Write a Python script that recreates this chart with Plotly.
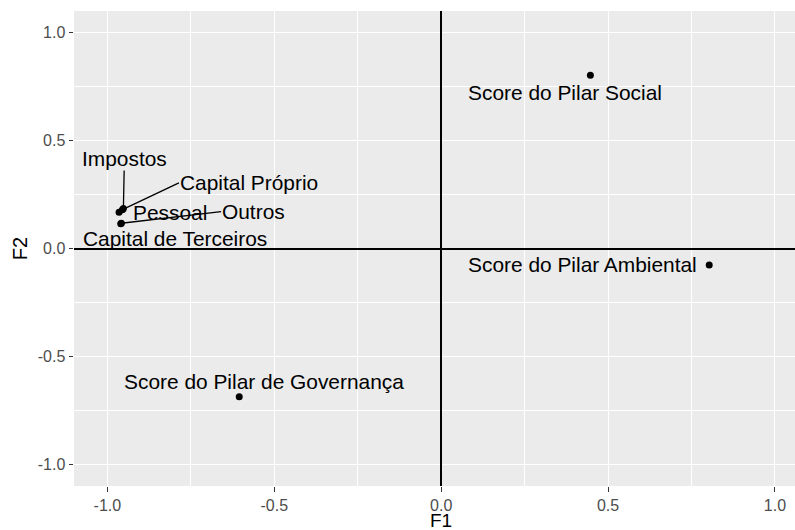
import plotly.graph_objects as go

# Data
labels = ["Score do Pilar Social", "Score do Pilar Ambiental", "Score do Pilar de Governança",
          "Impostos", "Capital Próprio", "Pessoal", "Outros", "Capital de Terceiros"]
f1 = [0.447, 0.803, -0.605, -0.952, -0.955, -0.965, -0.958, -0.960]
f2 = [0.802, -0.076, -0.687, 0.185, 0.180, 0.168, 0.117, 0.115]

x_ticks = [-1.0, -0.5, 0.0, 0.5, 1.0]
x_tick_labels = ["-1.0", "-0.5", "0.0", "0.5", "1.0"]
y_ticks = [-1.0, -0.5, 0.0, 0.5, 1.0]
y_tick_labels = ["-1.0", "-0.5", "0.0", "0.5", "1.0"]
x_title = "F1"
y_title = "F2"

# Label placement (pixel offsets from point) - layout only
label_style = {
    "Score do Pilar Social": dict(arrow=False, xshift=-25.7, yshift=-17.3, xanchor="center"),
    "Score do Pilar Ambiental": dict(arrow=False, xshift=-11.3, yshift=0, xanchor="right"),
    "Score do Pilar de Governança": dict(arrow=False, xshift=25, yshift=15, xanchor="center"),
    "Impostos": dict(arrow=True, ax=1, ay=-50, xanchor="center"),
    "Capital Próprio": dict(arrow=True, ax=56.5, ay=-26.7, xanchor="left"),
    "Pessoal": dict(arrow=False, xshift=13.3, yshift=0, xanchor="left"),
    "Outros": dict(arrow=True, ax=99.7, ay=-11.6, xanchor="left"),
    "Capital de Terceiros": dict(arrow=False, xshift=53.8, yshift=-15, xanchor="center"),
}

FONT = "Liberation Sans, Arial, sans-serif"
LABEL_SIZE = 20.9

fig = go.Figure()
fig.add_trace(go.Scatter(
    x=f1, y=f2, mode="markers",
    marker=dict(color="black", size=7),
    hoverinfo="text", text=labels, showlegend=False,
))

annotations = []
for lab, x, y in zip(labels, f1, f2):
    st = label_style[lab]
    if st["arrow"]:
        annotations.append(dict(
            x=x, y=y, xref="x", yref="y", text=lab,
            showarrow=True, ax=st["ax"], ay=st["ay"],
            arrowhead=0, arrowwidth=1.3, arrowcolor="black",
            xanchor=st["xanchor"], yanchor="middle",
            font=dict(family=FONT, size=LABEL_SIZE, color="black"),
            borderpad=0, standoff=0,
        ))
    else:
        annotations.append(dict(
            x=x, y=y, xref="x", yref="y", text=lab,
            showarrow=False, xshift=st["xshift"], yshift=st["yshift"],
            xanchor=st["xanchor"], yanchor="middle",
            font=dict(family=FONT, size=LABEL_SIZE, color="black"),
            borderpad=0,
        ))

# x-axis title (placed below tick labels, centred on the panel as in the reference)
annotations.append(dict(
    text=x_title, xref="x", x=0, yref="paper", y=-0.072,
    xanchor="center", yanchor="middle", showarrow=False,
    font=dict(family=FONT, size=19, color="black"),
))

axis_common = dict(
    showgrid=True, gridcolor="white", gridwidth=1.2,
    zeroline=True, zerolinecolor="black", zerolinewidth=1.6,
    ticks="outside", ticklen=4.5, tickwidth=1.1, tickcolor="#333333",
    tickfont=dict(family=FONT, size=16, color="#4D4D4D"),
    showline=False, automargin=False,
    minor=dict(dtick=0.25, tick0=0, showgrid=True, gridcolor="white", gridwidth=0.6, ticks=""),
)

fig.update_layout(
    width=795, height=530,
    margin=dict(l=74, r=0, t=11, b=44),
    paper_bgcolor="white", plot_bgcolor="#EBEBEB",
    annotations=annotations,
    xaxis=dict(range=[-1.1, 1.06], tickvals=x_ticks, ticktext=x_tick_labels,
               **axis_common),
    yaxis=dict(range=[-1.1, 1.1], tickvals=y_ticks, ticktext=y_tick_labels,
               title=dict(text=y_title, font=dict(family=FONT, size=20, color="black"), standoff=4),
               **axis_common),
)

fig.write_html("out.html", config={"displayModeBar": False},
               post_script="document.body.style.margin='0';document.body.style.overflow='hidden';")
